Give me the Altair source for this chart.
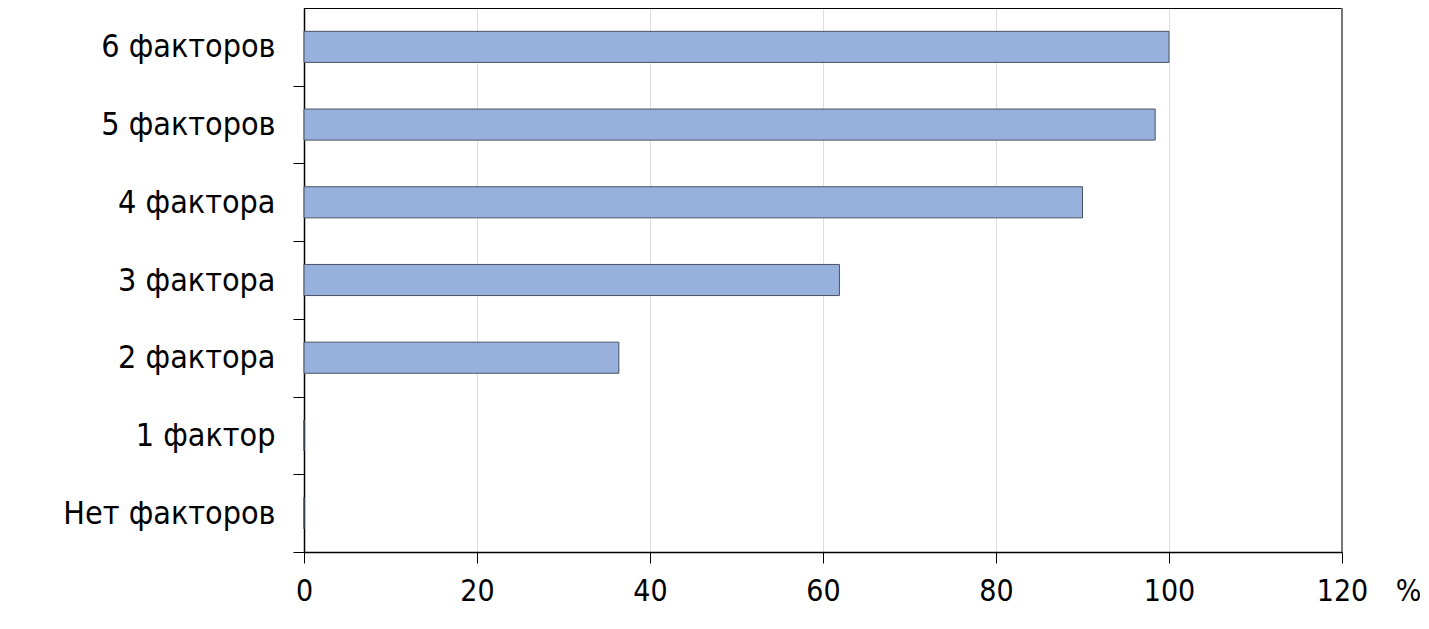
import altair as alt
import pandas as pd

categories = ["6 факторов", "5 факторов", "4 фактора", "3 фактора", "2 фактора", "1 фактор", "Нет факторов"]
values = [100.0, 98.4, 90.0, 61.9, 36.4, 0.0, 0.0]
x_ticks = [0, 20, 40, 60, 80, 100, 120]

df = pd.DataFrame({"cat": categories, "val": values})

FONT = "Liberation Sans Narrow, DejaVu Sans Condensed, sans-serif"
W, H = 1038, 544
STEP = H / len(categories)

bars = alt.Chart(df).mark_bar(
    fill="#97b1dc", stroke="#4a5262", strokeWidth=1
).encode(
    x=alt.X("val:Q",
            scale=alt.Scale(domain=[0, 120], nice=False, zero=True),
            axis=alt.Axis(values=x_ticks, title="%", titleX=1104, titleY=39,
                          titleAngle=0, titleAlign="center", titleBaseline="middle",
                          titleFont=FONT, titleFontSize=30, titleFontWeight="normal",
                          titleColor="#000",
                          labelFont=FONT, labelFontSize=30, labelColor="#000",
                          labelPadding=13, tickSize=11, tickColor="#000",
                          domainColor="#000", domainWidth=1.5,
                          grid=True, gridColor="#dedede", gridWidth=1,
                          labelFlush=False)),
    y=alt.Y("cat:N", sort=categories,
            scale=alt.Scale(paddingInner=0.6, paddingOuter=0.3),
            axis=alt.Axis(title=None, labelFont=FONT, labelFontSize=32, labelColor="#000",
                          labelPadding=18, labelLimit=400, tickSize=11, tickColor="#000",
                          tickOffset=STEP / 2, labelOffset=-STEP / 2,
                          domainColor="#000", domainWidth=1.5, grid=False)),
)

top = alt.Chart(df).mark_rule(color="#000", strokeWidth=1.5).encode(
    y=alt.value(0), x=alt.value(0), x2=alt.value(W)
)
right = alt.Chart(df).mark_rule(color="#777", strokeWidth=1.5).encode(
    x=alt.value(W), y=alt.value(0), y2=alt.value(H)
)

chart = alt.layer(bars, top, right).properties(
    width=W, height=H,
    autosize=alt.AutoSizeParams(type="none"),
    padding={"left": 296, "top": 0, "right": 78, "bottom": 60},
    background="#ffffff",
).configure_view(stroke=None)

chart.save("out.html", embed_options={"renderer": "svg", "actions": False})
